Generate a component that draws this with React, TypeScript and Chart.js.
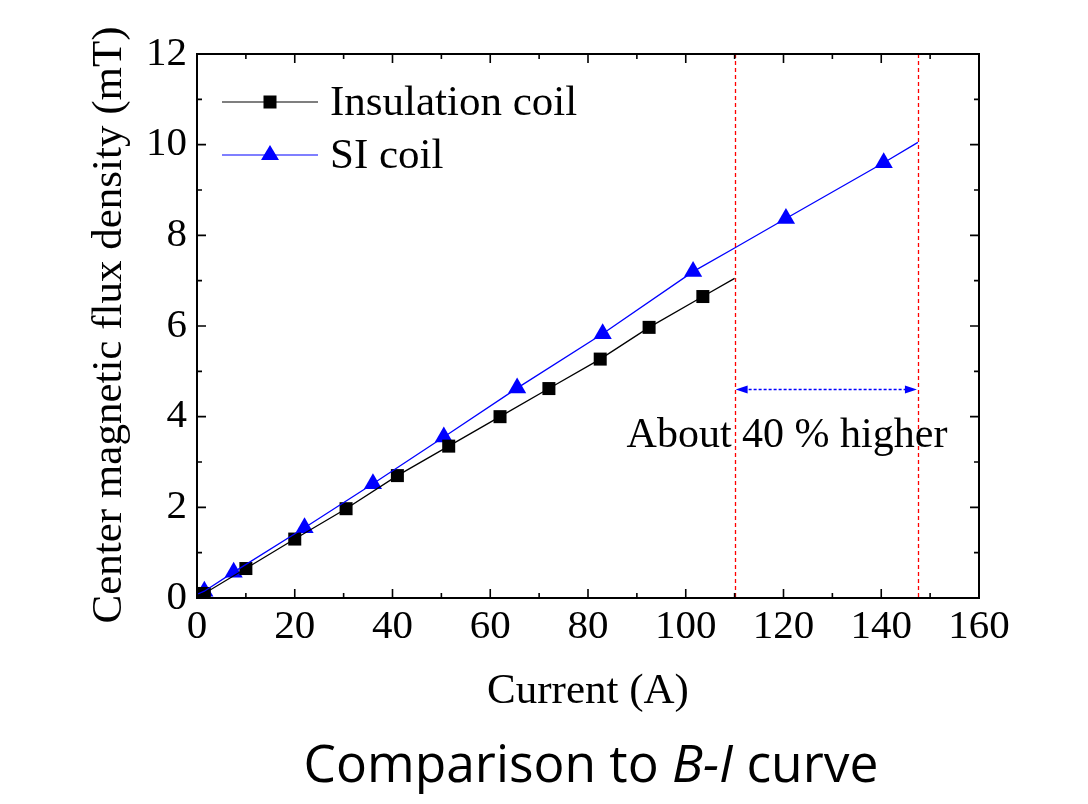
import React, { useEffect, useRef } from "react";
import { Chart, registerables } from "chart.js";

Chart.register(...registerables);

// ---- Data ----
const insulationX = [0, 1.5, 10, 20, 30.5, 41, 51.5, 62, 72, 82.5, 92.5, 103.5, 110];
const insulationY = [0.05, 0.1, 0.65, 1.3, 1.97, 2.7, 3.35, 4.0, 4.62, 5.27, 5.97, 6.65, 7.05];
const insulationMarkX = [1.5, 10, 20, 30.5, 41, 51.5, 62, 72, 82.5, 92.5, 103.5];
const insulationMarkY = [0.1, 0.65, 1.3, 1.97, 2.7, 3.35, 4.0, 4.62, 5.27, 5.97, 6.65];

const siX = [0, 1.5, 7.5, 22, 36, 50.5, 65.5, 83, 101.5, 110, 120.5, 140.5, 147.5];
const siY = [0.08, 0.15, 0.57, 1.55, 2.52, 3.55, 4.63, 5.83, 7.2, 7.72, 8.37, 9.6, 10.05];
const siMarkX = [1.5, 7.5, 22, 36, 50.5, 65.5, 83, 101.5, 120.5, 140.5];
const siMarkY = [0.15, 0.57, 1.55, 2.52, 3.55, 4.63, 5.83, 7.2, 8.37, 9.6];

const seriesNames = ["Insulation coil", "SI coil"];
const xTickValues = [0, 20, 40, 60, 80, 100, 120, 140, 160];
const yTickValues = [0, 2, 4, 6, 8, 10, 12];
const refLinesX = [110, 147.5];
const arrowY = 4.61;
const annotationText = "About 40 % higher";
const xTitle = "Current (A)";
const yTitle = "Center magnetic flux density (mT)";

const SERIF = "'Liberation Serif', 'Times New Roman', serif";
const SANS = "'Open Sans', 'Liberation Sans', sans-serif";

const toPts = (xs: number[], ys: number[]) => xs.map((x, i) => ({ x, y: ys[i] }));

const framePlugin = {
  id: "frame",
  afterDraw(chart: any) {
    const { ctx, chartArea: a, scales } = chart;
    const xs = scales.x;
    const ys = scales.y;
    ctx.save();
    ctx.strokeStyle = "#000";
    ctx.lineWidth = 2;
    ctx.strokeRect(a.left, a.top, a.right - a.left, a.bottom - a.top);
    ctx.lineWidth = 1.6;
    for (let v = 0; v <= 160; v += 10) {
      const px = xs.getPixelForValue(v);
      const len = v % 20 === 0 ? 9 : 5;
      ctx.beginPath();
      ctx.moveTo(px, a.bottom);
      ctx.lineTo(px, a.bottom - len);
      ctx.moveTo(px, a.top);
      ctx.lineTo(px, a.top + len);
      ctx.stroke();
    }
    for (let v = 0; v <= 12; v += 1) {
      const py = ys.getPixelForValue(v);
      const len = v % 2 === 0 ? 9 : 5;
      ctx.beginPath();
      ctx.moveTo(a.left, py);
      ctx.lineTo(a.left + len, py);
      ctx.moveTo(a.right, py);
      ctx.lineTo(a.right - len, py);
      ctx.stroke();
    }
    // axis titles
    ctx.fillStyle = "#000";
    ctx.font = `43px ${SERIF}`;
    ctx.textAlign = "center";
    ctx.textBaseline = "middle";
    ctx.fillText(xTitle, 588, 692);
    ctx.save();
    ctx.translate(110, 325);
    ctx.rotate(-Math.PI / 2);
    ctx.fillText(yTitle, 0, 0);
    ctx.restore();

    // bottom caption with italic B-I
    const y = 767;
    const parts = [
      { t: "Comparison to ", f: `51.5px ${SANS}` },
      { t: "B-I", f: `italic 51.5px ${SANS}` },
      { t: " curve", f: `51.5px ${SANS}` },
    ];
    let total = 0;
    for (const p of parts) {
      ctx.font = p.f;
      total += ctx.measureText(p.t).width;
    }
    let x = 591 - total / 2;
    ctx.textAlign = "left";
    for (const p of parts) {
      ctx.font = p.f;
      ctx.fillText(p.t, x, y);
      x += ctx.measureText(p.t).width;
    }
    ctx.restore();
  },
};

const annotationPlugin = {
  id: "annot",
  afterDatasetsDraw(chart: any) {
    const { ctx, chartArea: a, scales } = chart;
    const xs = scales.x;
    const ys = scales.y;
    ctx.save();
    ctx.strokeStyle = "#ff0000";
    ctx.lineWidth = 1.3;
    ctx.setLineDash([4, 3]);
    for (const v of refLinesX) {
      const px = Math.round(xs.getPixelForValue(v)) + 0.5;
      ctx.beginPath();
      ctx.moveTo(px, a.top);
      ctx.lineTo(px, a.bottom);
      ctx.stroke();
    }
    // blue double arrow
    const x1 = xs.getPixelForValue(refLinesX[0]) + 1;
    const x2 = xs.getPixelForValue(refLinesX[1]) - 1;
    const py = Math.round(ys.getPixelForValue(arrowY)) + 0.5;
    ctx.strokeStyle = "#0000ff";
    ctx.setLineDash([3, 2]);
    ctx.lineWidth = 1.4;
    ctx.beginPath();
    ctx.moveTo(x1 + 8, py);
    ctx.lineTo(x2 - 8, py);
    ctx.stroke();
    ctx.setLineDash([]);
    ctx.fillStyle = "#0000ff";
    ctx.beginPath();
    ctx.moveTo(x1, py);
    ctx.lineTo(x1 + 12, py - 4);
    ctx.lineTo(x1 + 12, py + 4);
    ctx.closePath();
    ctx.fill();
    ctx.beginPath();
    ctx.moveTo(x2, py);
    ctx.lineTo(x2 - 12, py - 4);
    ctx.lineTo(x2 - 12, py + 4);
    ctx.closePath();
    ctx.fill();
    // text
    ctx.fillStyle = "#000";
    ctx.font = `42px ${SERIF}`;
    ctx.textAlign = "center";
    ctx.textBaseline = "middle";
    ctx.fillText(annotationText, 787, 436);

    // legend
    const rows = [
      { y: 102, color: "#000000", shape: "square" },
      { y: 155, color: "#0000ff", shape: "tri" },
    ];
    rows.forEach((r, i) => {
      ctx.strokeStyle = r.color;
      ctx.lineWidth = 1.2;
      ctx.beginPath();
      ctx.moveTo(222, r.y);
      ctx.lineTo(318, r.y);
      ctx.stroke();
      ctx.fillStyle = r.color;
      if (r.shape === "square") {
        ctx.fillRect(270 - 6.5, r.y - 6.5, 13, 13);
      } else {
        ctx.beginPath();
        ctx.moveTo(270, r.y - 10);
        ctx.lineTo(279, r.y + 5);
        ctx.lineTo(261, r.y + 5);
        ctx.closePath();
        ctx.fill();
      }
      ctx.fillStyle = "#000";
      ctx.font = `43px ${SERIF}`;
      ctx.textAlign = "left";
      ctx.textBaseline = "middle";
      ctx.fillText(seriesNames[i], 330, r.y + 2);
    });
    ctx.restore();
  },
};

export default function App() {
  const ref = useRef<HTMLCanvasElement | null>(null);
  useEffect(() => {
    if (!ref.current) return;
    const chart = new Chart(ref.current, {
      type: "scatter",
      data: {
        datasets: [
          {
            label: seriesNames[0] + " line",
            data: toPts(insulationX, insulationY),
            showLine: true,
            borderColor: "#000000",
            borderWidth: 1.3,
            pointRadius: 0,
            tension: 0,
          },
          {
            label: seriesNames[1] + " line",
            data: toPts(siX, siY),
            showLine: true,
            borderColor: "#0000ff",
            borderWidth: 1.3,
            pointRadius: 0,
            tension: 0,
          },
          {
            label: seriesNames[0],
            data: toPts(insulationMarkX, insulationMarkY),
            showLine: false,
            pointStyle: "rect",
            pointRadius: 9.2,
            backgroundColor: "#000000",
            borderColor: "#000000",
            borderWidth: 0,
          },
          {
            label: seriesNames[1],
            data: toPts(siMarkX, siMarkY),
            showLine: false,
            pointStyle: "triangle",
            pointRadius: 10.5,
            backgroundColor: "#0000ff",
            borderColor: "#0000ff",
            borderWidth: 0,
          },
        ],
      },
      options: {
        animation: false,
        responsive: false,
        maintainAspectRatio: false,
        layout: { padding: { left: 0, top: 54, right: 109, bottom: 0 } },
        plugins: {
          legend: { display: false },
          tooltip: { enabled: false },
        },
        scales: {
          x: {
            type: "linear",
            min: 0,
            max: 160,
            afterBuildTicks: (s: any) => {
              s.ticks = xTickValues.map((v) => ({ value: v }));
            },
            ticks: {
              color: "#000",
              font: { family: SERIF, size: 41 },
              padding: 5,
              maxRotation: 0,
              autoSkip: false,
            },
            grid: { display: false, drawTicks: false },
            border: { display: false },
            afterFit: (s: any) => {
              s.height = 206;
            },
          },
          y: {
            type: "linear",
            min: 0,
            max: 12,
            afterBuildTicks: (s: any) => {
              s.ticks = yTickValues.map((v) => ({ value: v }));
            },
            ticks: {
              color: "#000",
              font: { family: SERIF, size: 41 },
              padding: 10,
              autoSkip: false,
            },
            grid: { display: false, drawTicks: false },
            border: { display: false },
            afterFit: (s: any) => {
              s.width = 197;
            },
          },
        },
      },
      plugins: [annotationPlugin, framePlugin],
    } as any);
    return () => chart.destroy();
  }, []);
  return (
    <div style={{ position: "absolute", left: 0, top: 0, width: 1088, height: 804, background: "#fff" }}>
      <canvas ref={ref} width={1088} height={804} style={{ width: 1088, height: 804, display: "block" }} />
    </div>
  );
}
